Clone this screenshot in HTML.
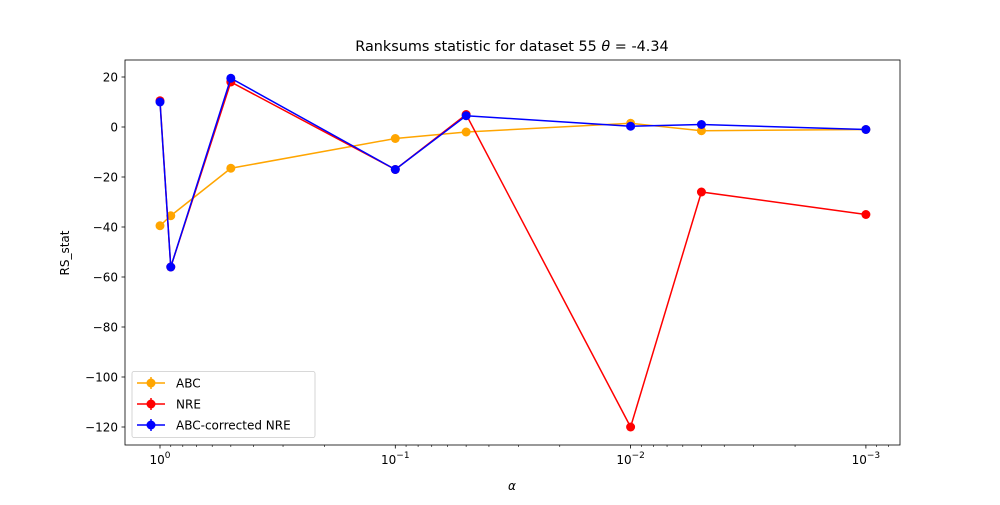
<!DOCTYPE html>
<html><head><meta charset="utf-8"><style>
body{margin:0;background:#fff;font-family:"Liberation Sans","DejaVu Sans",sans-serif}
svg text{font-family:"DejaVu Sans","Liberation Sans",sans-serif}
</style></head><body>
<svg id="chart" width="1000" height="500" xmlns="http://www.w3.org/2000/svg">
<rect width="1000" height="500" fill="#fff"/>
<g id="grid"></g>
</svg>
<script>
const alphas=[1,0.9,0.5,0.1,0.05,0.01,0.005,0.001];
const abcVals=[-39.5,-35.5,-16.5,-4.6,-2,1.5,-1.5,-1];
const nreVals=[10.5,-56,18,-17,5,-120,-26,-35];
const abcNreVals=[10,-56,19.5,-17,4.5,0.3,1,-1];
const yTicks=[20,0,-20,-40,-60,-80,-100,-120];
const xTickExps=[0,-1,-2,-3];
const seriesNames=["ABC","NRE","ABC-corrected NRE"];
const colors=["orange","red","blue"];

const L=125,R=900,T=60,B=445;
const pxDec=235.3, x0=160;
const X=a=>x0-Math.log10(a)*pxDec;
const Y=v=>127-v*2.5;
const svg=document.getElementById('chart');
const NS="http://www.w3.org/2000/svg";
function mk(tag,attrs,parent){const e=document.createElementNS(NS,tag);for(const k in attrs)e.setAttribute(k,attrs[k]);(parent||svg).appendChild(e);return e;}

// ticks
yTicks.forEach(v=>{
  const y=Y(v);
  const t=mk('line',{x1:L-3.5,x2:L,y1:y,y2:y,stroke:'#000','stroke-width':0.8});
  
  
  const tx=mk('text',{x:L-7,y:y+4.5,'text-anchor':'end','font-size':12});
  tx.textContent=(v<0?'\u2212'+(-v):v);
  
  
});
for(let e=1;e>=-4;e--){
  for(let m=1;m<10;m++){
    const a=m*Math.pow(10,e);const x=X(a);
    if(x<L||x>R)continue;
    const major=m===1;
    const t=mk('line',{x1:x,x2:x,y1:B,y2:B+(major?3.5:2),stroke:'#000','stroke-width':major?0.8:0.6});
    
    
  }
}
xTickExps.forEach(e=>{
  const x=X(Math.pow(10,e));
  const tx=mk('text',{x:x,y:B+19,'text-anchor':'middle','font-size':12});
  
  
  tx.appendChild(document.createTextNode('10'));
  const s=mk('tspan',{dy:-6,'font-size':9},tx);s.textContent=(e<0?'\u2212'+(-e):e);
});

// series
[abcVals,nreVals,abcNreVals].forEach((vals,i)=>{
  const g=mk('g',{});
  
  
  const pts=vals.map((v,j)=>X(alphas[j])+','+Y(v)).join(' ');
  mk('polyline',{points:pts,fill:'none',stroke:colors[i],'stroke-width':1.5},g);
  vals.forEach((v,j)=>{
    const c=mk('circle',{cx:X(alphas[j]),cy:Y(v),r:4.5,fill:colors[i]},g);
    
    
  });
});

// frame
const fr=mk('rect',{x:L,y:T,width:R-L,height:B-T,fill:'none',stroke:'#000','stroke-width':0.8});



// titles
const ti=mk('text',{x:512,y:51,'text-anchor':'middle','font-size':14.4});


ti.innerHTML='Ranksums statistic for dataset 55 <tspan font-style="italic">θ</tspan> =  -4.34';
const xl=mk('text',{x:512,y:490,'text-anchor':'middle','font-size':12,'font-style':'italic'});
xl.textContent='α';


const yl=mk('text',{x:0,y:0,'text-anchor':'middle','font-size':12,transform:'translate(69,253) rotate(-90)'});
yl.textContent='RS_stat';



// legend
const lg=mk('g',{});


mk('rect',{x:132,y:371.5,width:183,height:66,rx:2,fill:'#fff','fill-opacity':0.8,stroke:'#ccc','stroke-width':0.8},lg);
seriesNames.forEach((n,i)=>{
  const y=383+i*21;
  const e=mk('g',{},lg);
  
  
  mk('line',{x1:137,x2:165,y1:y,y2:y,stroke:colors[i],'stroke-width':1.5},e);
  mk('line',{x1:151,x2:151,y1:y-6,y2:y+6,stroke:colors[i],'stroke-width':1.5},e);
  mk('circle',{cx:151,cy:y,r:4.5,fill:colors[i]},e);
  const t=mk('text',{x:176,y:y+4.5,'font-size':12},e);t.textContent=n;
});
</script>
</body></html>
